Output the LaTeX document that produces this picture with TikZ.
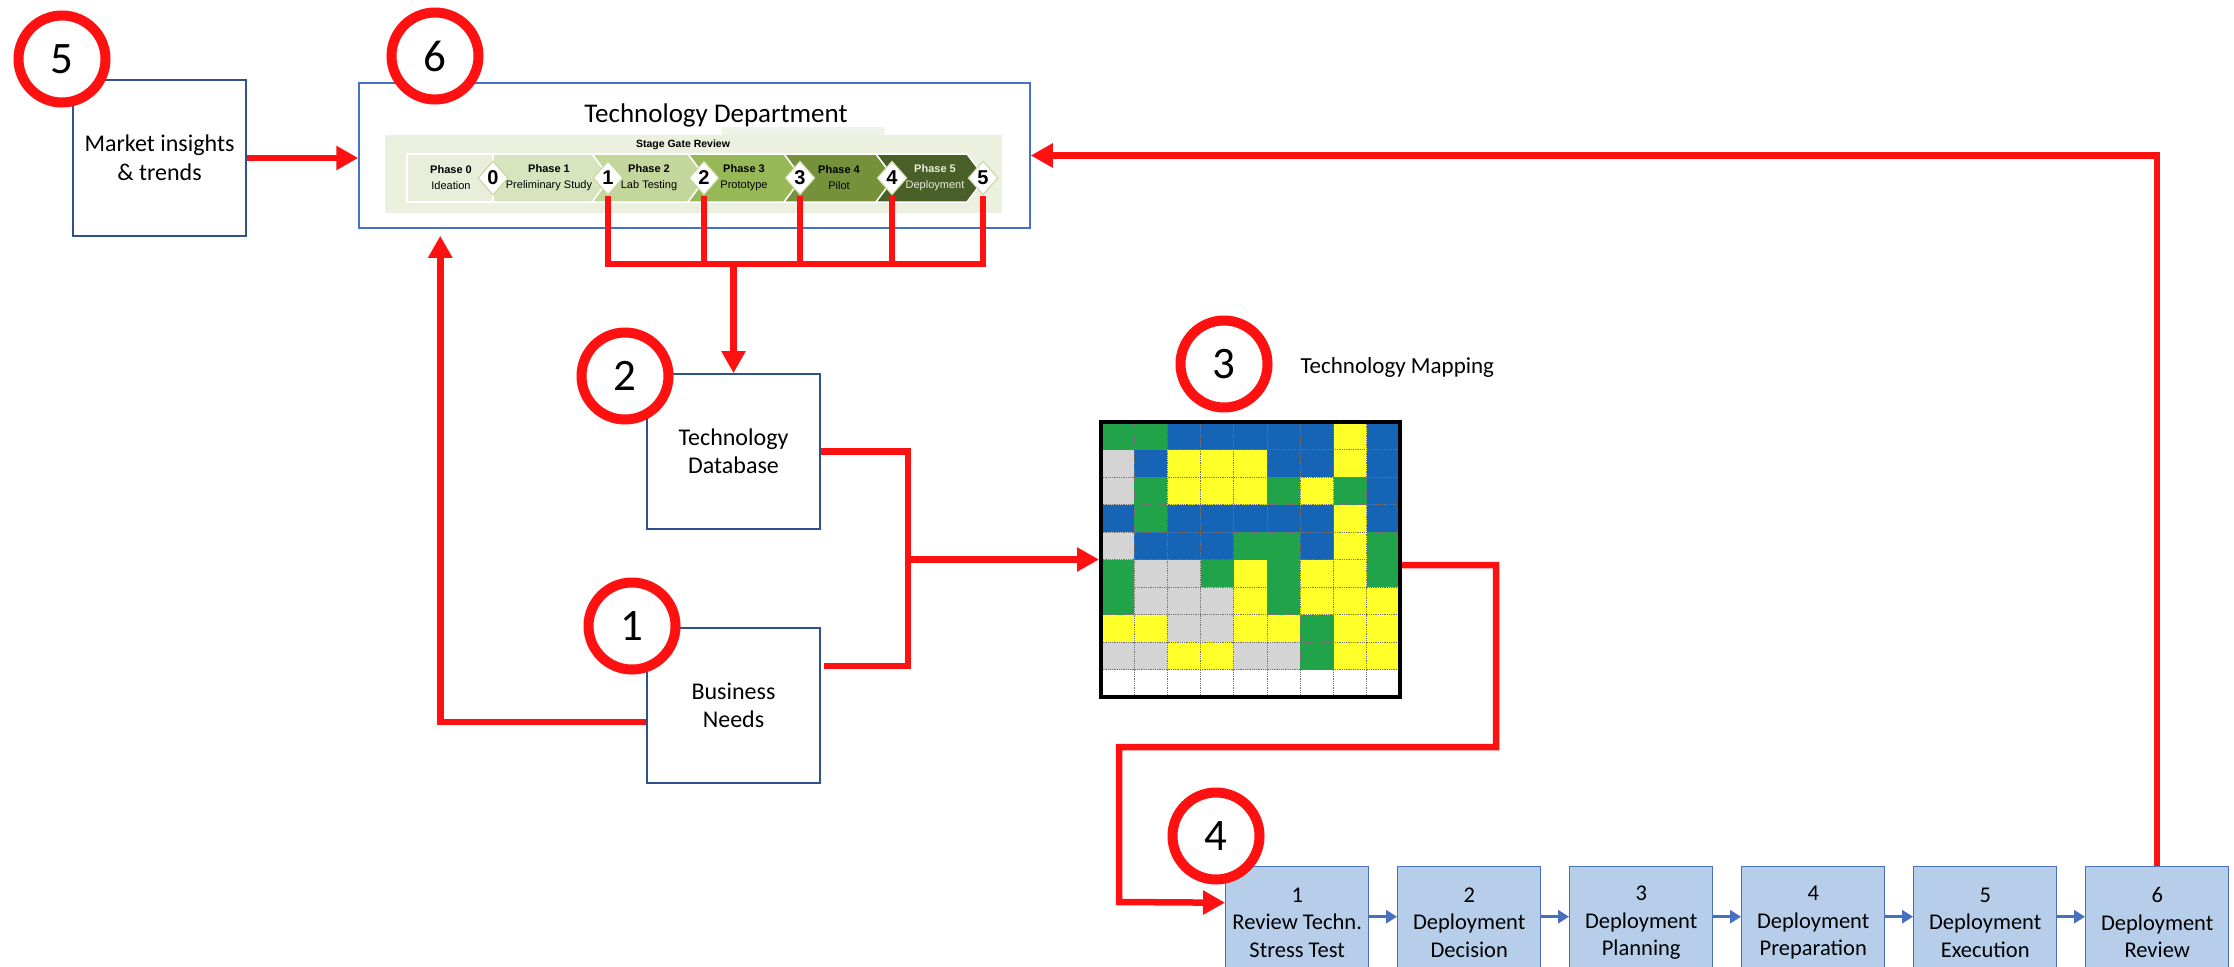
\documentclass[tikz,border=0pt]{standalone}
\usepackage{fontspec}
\setmainfont{Carlito}
\newfontfamily\arialfont{Liberation Sans}
\usetikzlibrary{arrows.meta,shapes.geometric,positioning}

\definecolor{mkred}{RGB}{255,17,17}
\definecolor{boxblue}{RGB}{47,82,143}
\definecolor{deptblue}{RGB}{68,114,196}
\definecolor{stepfill}{RGB}{182,206,233}
\definecolor{stepedge}{RGB}{72,112,190}
\definecolor{panelgreen}{RGB}{235,240,223}
\definecolor{tabgreen}{RGB}{240,244,232}
\definecolor{ph0}{RGB}{232,238,218}
\definecolor{ph1}{RGB}{215,228,189}
\definecolor{ph2}{RGB}{195,214,155}
\definecolor{ph3}{RGB}{150,184,86}
\definecolor{ph4}{RGB}{117,145,58}
\definecolor{ph5}{RGB}{74,94,40}
\definecolor{cellG}{RGB}{33,163,74}
\definecolor{cellB}{RGB}{22,100,182}
\definecolor{cellY}{RGB}{255,255,42}
\definecolor{cellS}{RGB}{212,212,212}
\definecolor{cellW}{RGB}{255,255,255}

\begin{document}
\begin{tikzpicture}[x=1pt, y=-1pt,
    redline/.style={mkred, line width=6.5pt},
    redarrow/.style={redline, -{Triangle[length=22pt, width=23pt]}},
    badge/.style={circle, draw=mkred, line width=10pt, fill=white, minimum size=87pt, inner sep=0pt, font=\fontsize{45}{45}\selectfont},
    plainbox/.style={draw=boxblue, line width=1.8pt, minimum width=173pt, minimum height=155pt, align=center, font=\fontsize{24}{28.5}\selectfont},
    stepbox/.style={draw=stepedge, fill=stepfill, line width=1.4pt, minimum width=143pt, minimum height=112pt, anchor=north west, align=center, font=\fontsize{22.5}{27.5}\selectfont},
    steparrow/.style={stepedge, line width=3.5pt, -{Triangle[length=11pt, width=13pt]}},
    gate/.style={diamond, fill=white, draw=ph2, line width=1pt, minimum width=30pt, minimum height=34pt, inner sep=0pt, font=\arialfont\bfseries\fontsize{20}{20}\selectfont},
    phase/.style={align=center, font=\arialfont\fontsize{11}{16}\selectfont},
    cellgrid/.style={black!55, line width=0.8pt, densely dotted}
]

    \useasboundingbox (0,0) rectangle (2234,966);
    \fill[white] (0,0) rectangle (2234,966);

    % Market insights
    \node[plainbox, minimum height=156pt] (mk) at (159.5,158) {Market insights\\\& trends};

    % Technology Department with the stage gate strip
    \node[draw=deptblue, line width=1.5pt, minimum width=671pt, minimum height=145pt] (tech) at (694.5,155.5) {};
    \node[anchor=base, font=\fontsize{27}{27}\selectfont] (techtitle) at (716,122) {Technology Department};
    \fill[tabgreen] (722,127) rectangle (885,136);
    \fill[panelgreen] (385,135) rectangle (1002,213);
    \node[anchor=base, font=\arialfont\bfseries\fontsize{10.5}{10.5}\selectfont] (sgr) at (683,147) {Stage Gate Review};
    \filldraw[fill=ph0, draw=white, line width=1.5pt] (407,154) rectangle (493,202);
    \filldraw[fill=ph1, draw=white, line width=1.5pt] (493,154) -- (592,154) -- (610,178) -- (592,202) -- (493,202) -- cycle;
    \foreach \a/\b/\col in {608/704/ph2, 704/800/ph3, 800/892/ph4, 892/983/ph5} {
        \filldraw[fill=\col, draw=white, line width=1.5pt] (\a-16,154) -- (\b-16,154) -- (\b+2,178) -- (\b-16,202) -- (\a-16,202) -- (\a+2,178) -- cycle;
    }
    \node[phase] (p0) at (451,178) {\textbf{Phase 0}\\Ideation};
    \foreach \i/\x/\sub/\tc in {1/549/Preliminary Study/black, 2/649/Lab Testing/black, 3/744/Prototype/black, 4/839/Pilot/black, 5/935/Deployment/ph0} {
        \node[phase, text=\tc] (p\i) at (\x,178) {\textbf{Phase \i}\\\sub};
    }
    \foreach \g/\x in {0/493, 1/608, 2/704, 3/800, 4/892, 5/983} {
        \node[gate] (g\g) at (\x,178) {\g};
    }

    % Technology Database and Business Needs
    \node[plainbox] (db) at (733.5,451.5) {Technology\\Database};
    \node[plainbox] (bn) at (733.5,705.5) {Business\\Needs};

    % Technology mapping grid
    \begin{scope}[shift={(1101,422)}]
        \foreach \row [count=\r from 0] in {{G,G,B,B,B,B,B,Y,B}, {S,B,Y,Y,Y,B,B,Y,B}, {S,G,Y,Y,Y,G,Y,G,B}, {B,G,B,B,B,B,B,Y,B}, {S,B,B,B,G,G,B,Y,G}, {G,S,S,G,Y,G,Y,Y,G}, {G,S,S,S,Y,G,Y,Y,Y}, {Y,Y,S,S,Y,Y,G,Y,Y}, {S,S,Y,Y,S,S,G,Y,Y}, {W,W,W,W,W,W,W,W,W}} {
            \foreach \c [count=\k from 0] in \row {
                \fill[cell\c] (\k*33.22,\r*27.5) rectangle ++(33.22,27.5);
            }
        }
        \foreach \k in {1,...,8} {
            \draw[cellgrid] (\k*33.22,0) -- (\k*33.22,275);
        }
        \foreach \r in {1,...,9} {
            \draw[cellgrid] (0,\r*27.5) -- (299,\r*27.5);
        }
    \end{scope}
    \node[draw=black, line width=4pt, minimum width=299pt, minimum height=275pt, inner sep=0pt] (map) at (1250.5,559.5) {};
    \node[anchor=base west, font=\fontsize{23}{23}\selectfont] (maptitle) at (1297,373) {Technology Mapping};

    % Deployment steps
    \foreach \n/\txt [count=\i from 0] in {1/{Review Techn.\\Stress Test}, 2/{Deployment\\Decision}, 3/{Deployment\\Planning}, 4/{Deployment\\Preparation}, 5/{Deployment\\Execution}, 6/{Deployment\\Review}} {
        \node[stepbox] (s\n) at (1225+172*\i,866) {\n\\\txt};
    }
    \foreach \a/\b in {1/2, 2/3, 3/4, 4/5, 5/6} {
        \draw[steparrow] ([yshift=6pt]s\a.east) -- ([yshift=6pt]s\b.west);
    }

    % Red connectors
    \coordinate (bar) at (733.5,264);
    \coordinate (merge) at (908,559.5);
    \coordinate (bendA) at (1496,747);
    \coordinate (bendB) at (1119,902);
    \draw[redarrow] (mk.east) -- (mk.east -| tech.west);
    \draw[redline] (g1.south) -- (g1.south |- bar) -- (g5.south |- bar) -- (g5.south);
    \foreach \g in {2,3,4} {
        \draw[redline] (g\g.south) -- (g\g.south |- bar);
    }
    \draw[redarrow] (bar) -- (db.north);
    \draw[redline] (db.east) -| (merge) |- ([xshift=3pt, yshift=39.5pt]bn.east);
    \draw[redarrow] (merge) -- (map.west);
    \draw[redarrow, shorten >=7pt] ([yshift=-16.5pt]bn.west) -| ([xshift=82pt]tech.south west);
    \draw[redarrow] ([yshift=-5.5pt]map.east) -| (bendA) -| (bendB) -- ([yshift=20pt]s1.west);
    \draw[redarrow] (s6.north) |- (tech.east);

    % Numbered badges
    \node[badge] (c5) at (62,59) {5};
    \node[badge] (c6) at (435,56) {6};
    \node[badge] (c2) at (625,376) {2};
    \node[badge] (c1) at (632,626) {1};
    \node[badge] (c3) at (1224,364) {3};
    \node[badge] (c4) at (1216,836) {4};

\end{tikzpicture}
\end{document}
